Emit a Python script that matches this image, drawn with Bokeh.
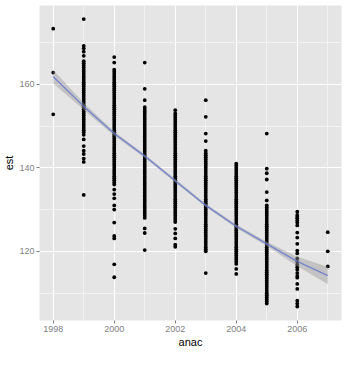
from bokeh.plotting import figure
from bokeh.models import FixedTicker, ColumnDataSource
from bokeh.embed import file_html
from bokeh.resources import INLINE

# ---- data ----
years = [1998, 1999, 2000, 2001, 2002, 2003, 2004, 2005, 2006, 2007]

y1998 = [173.3, 162.8, 152.8]
y1999 = [175.6, 169.2, 168.6, 167.8, 166.8, 165.5, 165, 164.5, 164, 163.5, 163, 162.5, 162,
         161.5, 161, 160.5, 160, 159.5, 159, 158.5, 158, 157.5, 157, 156.5, 156, 155.5, 155,
         154.5, 154, 153.5, 153, 152.5, 152, 151.5, 151, 150.5, 150, 149.5, 149, 148.5,
         147.9, 146.8, 145.2, 144.1, 143.3, 142.2, 141.4, 133.5]
y2000 = [166.5, 165.2, 163.5, 163, 162.5, 162, 161.5, 161, 160.5, 160, 159.5, 159, 158.5, 158,
         157.5, 157, 156.5, 156, 155.5, 155, 154.5, 154, 153.5, 153, 152.5, 152, 151.5, 151,
         150.5, 150, 149.5, 149, 148.5, 148, 147.5, 147, 146.5, 146, 145.5, 145, 144.5, 144,
         143.5, 143, 142.5, 142, 141.5, 141, 140.5, 140, 139.5, 139, 138.5, 138, 137.5, 137,
         136.5, 136, 134.8, 133.7, 132.7, 131.0, 130.0, 126.9, 123.7, 123.1, 116.9, 113.8]
y2001 = [165.2, 158.9, 156.2, 154.5, 154, 153.5, 153, 152.5, 152, 151.5, 151, 150.5, 150,
         149.5, 149, 148.5, 148, 147.5, 147, 146.5, 146, 145.5, 145, 144.5, 144, 143.5, 143,
         142.5, 142, 141.5, 141, 140.5, 140, 139.5, 139, 138.5, 138, 137.5, 137, 136.5, 136,
         135.5, 135, 134.5, 134, 133.5, 133, 132.5, 132, 131.5, 131, 130.5, 130, 129.5, 129,
         128.5, 128, 125.5, 124.4, 120.3]
y2002 = [153.8, 153, 152.5, 152, 151.5, 151, 150.5, 150, 149.5, 149, 148.5, 148, 147.5, 147,
         146.5, 146, 145.5, 145, 144.5, 144, 143.5, 143, 142.5, 142, 141.5, 141, 140.5, 140,
         139.5, 139, 138.5, 138, 137.5, 137, 136.5, 136, 135.5, 135, 134.5, 134, 133.5, 133,
         132.5, 132, 131.5, 131, 130.5, 130, 129.5, 129, 128.5, 128, 127.5, 127,
         125.4, 124.3, 123.1, 121.6, 121.1]
y2003 = [156.2, 152.2, 148.2, 146.4, 144.1, 143.5, 143, 142.5, 142, 141.5, 141, 140.5, 140,
         139.5, 139, 138.5, 138, 137.5, 137, 136.5, 136, 135.5, 135, 134.5, 134, 133.5, 133,
         132.5, 132, 131.5, 131, 130.5, 130, 129.5, 129, 128.5, 128, 127.5, 127, 126.5, 126,
         125.5, 125, 124.5, 124, 123.5, 123, 122.5, 122, 121.5, 121, 120.5, 120, 114.8]
y2004 = [141, 140.5, 140, 139.5, 139, 138.5, 138, 137.5, 137, 136.5, 136, 135.5, 135, 134.5,
         134, 133.5, 133, 132.5, 132, 131.5, 131, 130.5, 130, 129.5, 129, 128.5, 128, 127.5,
         127, 126.5, 126, 125.5, 125, 124.5, 124, 123.5, 123, 122.5, 122, 121.5, 121, 120.5,
         120, 119.5, 119, 118.5, 118, 117.5, 117, 115.8, 114.6]
y2005 = [148.2, 139.8, 138.7, 137.2, 134.2, 132.2, 131, 130.5, 130, 129.5, 129, 128.5, 128,
         127.5, 127, 126.5, 126, 125.5, 125, 124.5, 124, 123.5, 123, 122.5, 122, 121.5, 121,
         120.5, 120, 119.5, 119, 118.5, 118, 117.5, 117, 116.5, 116, 115.5, 115, 114.5, 114,
         113.5, 113, 112.5, 112, 111.5, 111, 110.5, 110, 109.5, 109, 108.5, 108, 107.5]
y2006 = [129.5, 128.7, 128.3, 127.9, 127.4, 126.9, 126.2, 124.5, 123.3, 121.8, 120.2, 119.5,
         118.3, 117.5, 116.8, 116.2, 115.6, 114.8, 114.1, 113.7, 112.2, 111.0, 108.2, 107.5,
         106.8]
y2007 = [124.6, 120.0, 116.4]

# loess smooth
smooth_fit = [161.8, 154.7, 148.2, 142.8, 136.9, 131.0, 126.0, 121.8, 117.6, 114.2]
smooth_se = [1.6, 0.8, 0.5, 0.4, 0.4, 0.4, 0.4, 0.5, 1.1, 2.1]

x_major = [1998, 2000, 2002, 2004, 2006]
x_minor = [1999, 2001, 2003, 2005, 2007]
y_major = [120, 140, 160]
y_minor = [110, 130, 150, 170]

cols = [y1998, y1999, y2000, y2001, y2002, y2003, y2004, y2005, y2006, y2007]
xs, ys = [], []
for yr, col in zip(years, cols):
    xs += [yr] * len(col)
    ys += col

p = figure(width=344, height=350, x_range=(1997.55, 2007.45), y_range=(103.45, 178.85),
           output_backend="svg", toolbar_location=None,
           min_border_left=0, min_border_right=3, min_border_top=5, min_border_bottom=0)
p.background_fill_color = "#E5E5E5"
p.border_fill_color = "white"
p.outline_line_color = None

for ax in (p.xaxis, p.yaxis):
    ax.axis_line_color = None
    ax.major_tick_line_color = "#7F7F7F"
    ax.major_tick_out = 3
    ax.major_tick_in = 0
    ax.minor_tick_line_color = None
    ax.major_label_text_color = "#7F7F7F"
    ax.major_label_text_font = "Liberation Sans"
    ax.major_label_text_font_size = "9px"
    ax.axis_label_text_font = "Liberation Sans"
    ax.axis_label_text_font_size = "11px"
    ax.axis_label_text_font_style = "normal"
    ax.axis_label_text_color = "black"
    ax.major_label_standoff = 1
    ax.axis_label_standoff = 1

p.xaxis.ticker = FixedTicker(ticks=x_major, minor_ticks=x_minor)
p.yaxis.ticker = FixedTicker(ticks=y_major, minor_ticks=y_minor)
p.xaxis.axis_label = "anac"
p.yaxis.axis_label = "est"

p.xgrid.grid_line_color = "white"
p.ygrid.grid_line_color = "white"
p.xgrid.grid_line_width = 1
p.ygrid.grid_line_width = 1
p.xgrid.minor_grid_line_color = "#F2F2F2"
p.ygrid.minor_grid_line_color = "#F2F2F2"

band = ColumnDataSource(dict(x=years, fit=smooth_fit,
                             lo=[f - s for f, s in zip(smooth_fit, smooth_se)],
                             hi=[f + s for f, s in zip(smooth_fit, smooth_se)]))

p.scatter(xs, ys, size=3.8, color="black", line_width=0)
p.varea(x="x", y1="lo", y2="hi", source=band, fill_color="#999999", fill_alpha=0.45)
p.line(x="x", y="fit", source=band, line_color="#5A6FD0", line_alpha=0.75, line_width=1.3)

open("out.html", "w").write(file_html(p, INLINE))
